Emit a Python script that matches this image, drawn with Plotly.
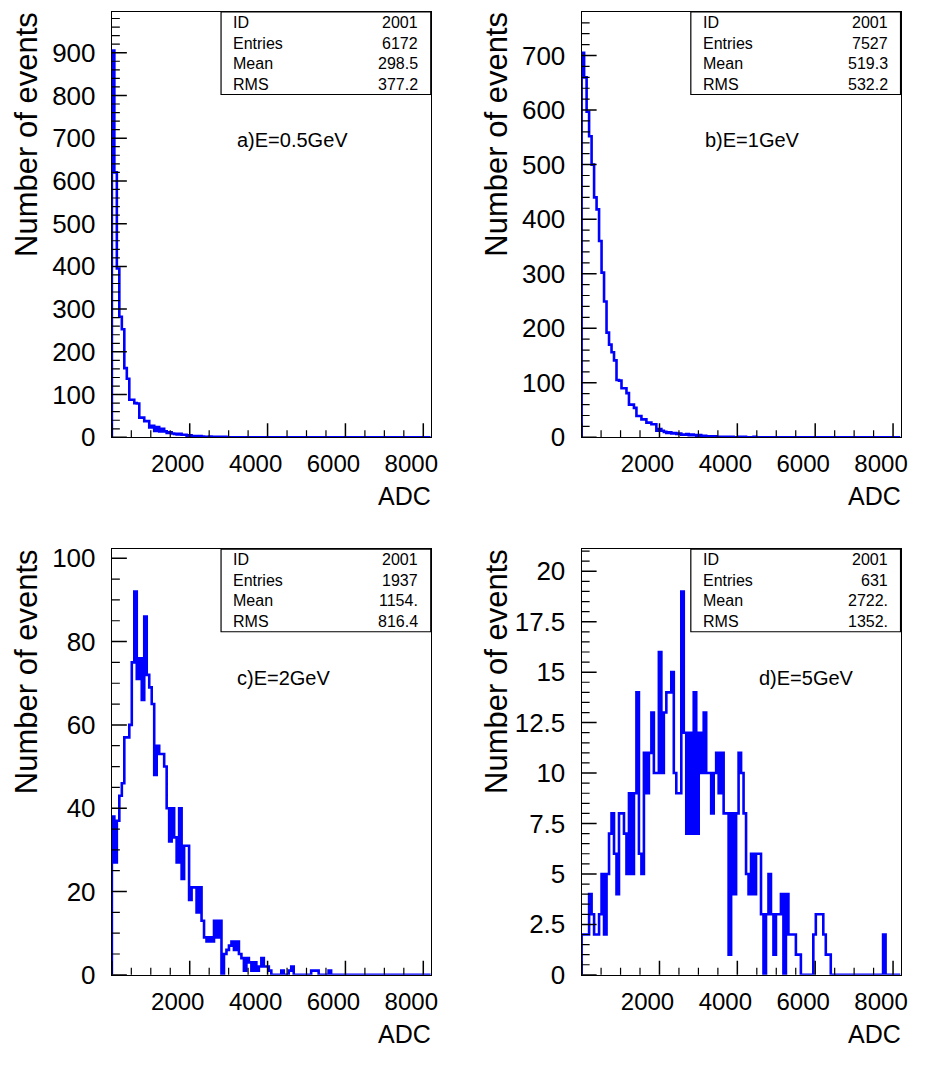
import numpy as np
import plotly.graph_objects as go

# ---------------- data ----------------
BIN_WIDTH = 64
N_BINS = 128
X_MAX = 8192

counts_a = [905, 620, 395, 282, 253, 162, 137, 88, 88, 80, 79, 46, 46, 38, 38, 23,
            27, 15, 24, 14, 20, 14, 10, 12, 9, 8, 7, 8, 6, 6, 4, 5, 3, 3, 2, 3,
            2, 1, 1, 2, 1, 0, 1, 1, 0, 1]
counts_b = [705, 660, 597, 552, 500, 440, 418, 360, 302, 249, 192, 170, 156, 141, 105, 104,
            90, 90, 81, 60, 60, 54, 39, 39, 33, 33, 27, 27, 24, 24, 12, 15, 12, 10, 8, 9,
            7, 8, 6, 7, 5, 5, 6, 4, 5, 4, 3, 4, 2, 3, 2, 2, 1, 2, 1, 1, 0, 1, 1, 0,
            1, 0, 0, 1, 0, 1, 0, 0, 0, 1]
counts_c = [38, 27, 37, 43, 46, 57, 57, 60, 75, 92, 71, 76, 66, 86, 72, 69,
            65, 48, 55, 53, 53, 50, 40, 32, 40, 33, 27, 40, 23, 31, 31, 18,
            21, 21, 15, 21, 13, 9, 8, 9, 8, 13, 9, 13, 0, 5, 6, 7,
            8, 6, 8, 5, 4, 1, 4, 3, 1, 3, 1, 2, 4, 2, 2, 1,
            0, 0, 0, 0, 1, 0, 0, 1, 2, 0, 0, 0, 0, 0, 0, 0,
            1, 1, 1, 0, 0, 0, 0, 1]
counts_d = [2, 2, 2, 4, 3, 2, 2, 3, 5, 2, 5, 7, 8, 6, 4, 8,
            8, 7, 5, 9, 5, 9, 14, 6, 5, 11, 9, 11, 13, 10, 10, 16,
            10, 13, 14, 14, 15, 10, 9, 9, 19, 12, 7, 12, 7, 14, 7, 12,
            10, 13, 10, 10, 8, 10, 11, 9, 11, 8, 8, 1, 8, 4, 8, 11,
            10, 8, 5, 4, 6, 4, 6, 6, 3, 0, 3, 5, 3, 1, 3, 3,
            4, 0, 4, 2, 2, 2, 1, 1, 0, 0, 0, 0, 0, 2, 3, 3,
            3, 2, 1, 1, 0, 0, 0, 0, 0, 0, 0, 0, 0, 0, 0, 0,
            0, 0, 0, 0, 0, 0, 0, 0, 0, 2]

panel_labels = ["a)E=0.5GeV", "b)E=1GeV", "c)E=2GeV", "d)E=5GeV"]
stat_names = ["ID", "Entries", "Mean", "RMS"]
stat_values = [["2001", "6172", "298.5", "377.2"],
               ["2001", "7527", "519.3", "532.2"],
               ["2001", "1937", "1154.", "816.4"],
               ["2001", "631", "2722.", "1352."]]

x_tick_vals = [0, 2000, 4000, 6000, 8000]
x_tick_text = ["", "2000", "4000", "6000", "8000"]
x_minor_step = 500
y_ticks_a = [0, 100, 200, 300, 400, 500, 600, 700, 800, 900]
y_ticks_b = [0, 100, 200, 300, 400, 500, 600, 700]
y_ticks_c = [0, 20, 40, 60, 80, 100]
y_ticks_d = [0, 2.5, 5, 7.5, 10, 12.5, 15, 17.5, 20]
y_text_d = ["0", "2.5", "5", "7.5", "10", "12.5", "15", "17.5", "20"]
y_max = [995.5, 780, 102.2, 21.1]
y_minor = [20, 20, 5, 0.5]

x_title = "ADC"
y_title = "Number of events"

# ---------------- layout helpers ----------------
W, H = 938, 1066
def fx(p):
    return p / W
def fy(p):
    return 1 - p / H

# panel frames in pixels: (left, right, top, bottom)
frames = [(112.7, 434.0, 6.0, 440.0),
          (586.0, 907.3, 6.0, 440.0),
          (112.7, 434.0, 554.0, 988.3),
          (586.0, 907.3, 554.0, 988.3)]

BLUE = "#0000ff"
FONT = "Liberation Sans, Arial, sans-serif"
NARROW = "Liberation Sans Narrow, Arial Narrow, Liberation Sans, sans-serif"

fig = go.Figure()
edges = np.arange(N_BINS + 1) * BIN_WIDTH

all_counts = [counts_a, counts_b, counts_c, counts_d]
y_tick_sets = [(y_ticks_a, [str(v) for v in y_ticks_a]),
               (y_ticks_b, [str(v) for v in y_ticks_b]),
               (y_ticks_c, [str(v) for v in y_ticks_c]),
               (y_ticks_d, y_text_d)]

annotations = []
shapes = []
for i, counts in enumerate(all_counts):
    c = list(counts) + [0] * (N_BINS - len(counts))
    xs = [edges[0]] + list(edges[:-1]) + [edges[-1], edges[-1]]
    ys = [0] + c + [c[-1], 0]
    xa = "x" if i == 0 else f"x{i+1}"
    ya = "y" if i == 0 else f"y{i+1}"
    fig.add_trace(go.Scatter(x=xs, y=ys, mode="lines", line=dict(color=BLUE, width=2.6, shape="hv"),
                             xaxis=xa, yaxis=ya, showlegend=False, hoverinfo="skip"))
    l, r, t, b = frames[i]
    xkey = "xaxis" if i == 0 else f"xaxis{i+1}"
    ykey = "yaxis" if i == 0 else f"yaxis{i+1}"
    tv, tt = y_tick_sets[i]
    fig.update_layout(**{
        xkey: dict(domain=[fx(l), fx(r)], anchor=ya, range=[0, X_MAX],
                   showgrid=False, zeroline=False, showline=True, mirror=True,
                   linecolor="black", linewidth=1.2,
                   tickmode="array", tickvals=x_tick_vals, ticktext=x_tick_text,
                   ticks="",
                   tickfont=dict(family=NARROW, size=24, color="black"),
                   ticklabelshift=-12, ticklabelstandoff=5, fixedrange=True),
        ykey: dict(domain=[fy(b), fy(t)], anchor=xa, range=[0, y_max[i]],
                   showgrid=False, zeroline=False, showline=True, mirror=True,
                   linecolor="black", linewidth=1.2,
                   tickmode="array", tickvals=tv, ticktext=tt,
                   ticks="",
                   tickfont=dict(family=FONT, size=26, color="black"),
                   ticklabelstandoff=10, fixedrange=True),
    })
    # inside tick marks (major + minor), drawn on the axes' own scales
    for v in np.arange(0, X_MAX, x_minor_step):
        major = v in x_tick_vals
        shapes.append(dict(type="line", xref=xa, yref=f"{ya} domain",
                           x0=float(v), x1=float(v), ysizemode="pixel", yanchor=0,
                           y0=0, y1=14 if major else 7,
                           line=dict(color="black", width=1.5 if major else 1.2)))
    for v in np.arange(0, y_max[i], y_minor[i]):
        major = any(abs(v - m) < 1e-9 for m in tv)
        shapes.append(dict(type="line", xref=f"{xa} domain", yref=ya,
                           y0=float(v), y1=float(v), xsizemode="pixel", xanchor=0,
                           x0=0, x1=15 if major else 8,
                           line=dict(color="black", width=1.5 if major else 1.2)))
    # stats box
    bl = l + (r - l) * 0.3424
    bb = t + 84.3
    shapes.append(dict(type="rect", xref="paper", yref="paper",
                       x0=fx(bl), x1=fx(r), y0=fy(bb), y1=fy(t),
                       line=dict(color="black", width=1.2), fillcolor="white", layer="above"))
    for k, name in enumerate(stat_names):
        yc = t + 10.7 + k * 21.1
        annotations.append(dict(xref="paper", yref="paper", x=fx(bl + 10.5), y=fy(yc),
                                text=name, showarrow=False, xanchor="left", yanchor="middle",
                                font=dict(family=FONT, size=16, color="black")))
        annotations.append(dict(xref="paper", yref="paper", x=fx(r - 10.5), y=fy(yc),
                                text=stat_values[i][k], showarrow=False, xanchor="right", yanchor="middle",
                                font=dict(family=FONT, size=16, color="black")))
    # panel label
    lab_x = [236.7, 708.3, 236.7, 762.7][i]
    lab_y = t + 131
    annotations.append(dict(xref="paper", yref="paper", x=fx(lab_x), y=fy(lab_y),
                            text=panel_labels[i], showarrow=False, xanchor="left", yanchor="middle",
                            font=dict(family=FONT, size=20, color="black")))
    # x title
    annotations.append(dict(xref="paper", yref="paper", x=fx(r + 2), y=fy(b + 60),
                            text=x_title, showarrow=False, xanchor="right", yanchor="middle",
                            font=dict(family=FONT, size=25, color="black")))
    # y title
    annotations.append(dict(xref="paper", yref="paper", x=fx(l - 86), y=fy(t - 2),
                            text=y_title, showarrow=False, textangle=-90,
                            xanchor="center", yanchor="top",
                            font=dict(family=FONT, size=31, color="black")))

fig.update_layout(width=W, height=H, margin=dict(l=0, r=0, t=0, b=0),
                  paper_bgcolor="white", plot_bgcolor="white",
                  shapes=shapes, annotations=annotations, showlegend=False)

fig.write_html("out.html",
               post_script="document.body.style.margin='0';document.body.style.padding='0';")
